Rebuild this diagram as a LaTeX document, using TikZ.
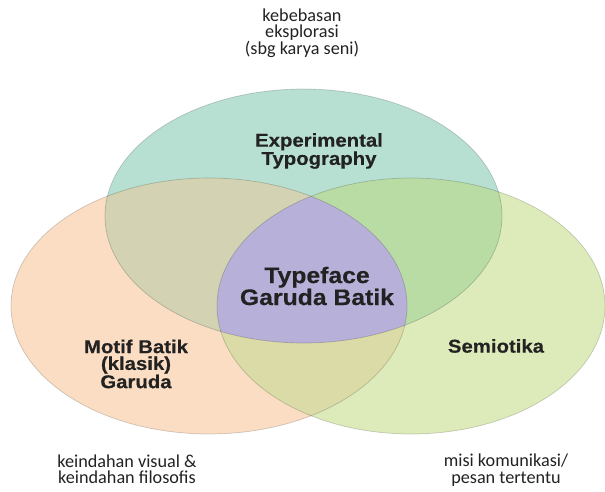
\documentclass[tikz,border=0pt]{standalone}
\usepackage{fontspec}
\setmainfont{Carlito}
\newfontfamily\heavy{Liberation Sans Bold}[FakeStretch=1.1, FakeBold=0.35]
\definecolor{cTop}{HTML}{B7E0D2}
\definecolor{cLeft}{HTML}{FADDC2}
\definecolor{cRight}{HTML}{DDEBBA}
\definecolor{cTL}{HTML}{D3D2B2}
\definecolor{cTR}{HTML}{B9DCA5}
\definecolor{cLR}{HTML}{DADBA6}
\definecolor{cMid}{HTML}{B7B1DA}
\definecolor{cText}{HTML}{222222}
\tikzset{
  outline/.style={draw=black, draw opacity=0.18, line width=0.7pt},
  bigbold/.style={align=center, text=cText, font=\heavy\fontsize{22.5}{20.5}\selectfont},
  midbold/.style={align=center, text=cText, font=\heavy\fontsize{18.5}{16.8}\selectfont},
  note/.style={align=center, text=cText, font=\fontsize{18.2}{16.5}\selectfont}
}
\begin{document}
\begin{tikzpicture}[x=1pt,y=-1pt]
\useasboundingbox (0,0) rectangle (605,491);
% base fills
\fill[cLeft] (209,306) ellipse [x radius=198, y radius=128];
\fill[cRight] (411,306) ellipse [x radius=194, y radius=128];
\fill[cTop] (303.5,216) ellipse [x radius=198.5, y radius=127];
% pairwise overlaps
\begin{scope}
  \clip (303.5,216) ellipse [x radius=198.5, y radius=127];
  \fill[cTL] (209,306) ellipse [x radius=198, y radius=128];
\end{scope}
\begin{scope}
  \clip (303.5,216) ellipse [x radius=198.5, y radius=127];
  \fill[cTR] (411,306) ellipse [x radius=194, y radius=128];
\end{scope}
\begin{scope}
  \clip (209,306) ellipse [x radius=198, y radius=128];
  \fill[cLR] (411,306) ellipse [x radius=194, y radius=128];
\end{scope}
% triple overlap
\begin{scope}
  \clip (303.5,216) ellipse [x radius=198.5, y radius=127];
  \clip (209,306) ellipse [x radius=198, y radius=128];
  \fill[cMid] (411,306) ellipse [x radius=194, y radius=128];
\end{scope}
% outlines
\path[outline] (209,306) ellipse [x radius=198, y radius=128];
\path[outline] (411,306) ellipse [x radius=194, y radius=128];
\path[outline] (303.5,216) ellipse [x radius=198.5, y radius=127];
% labels
\node[midbold] (exp) at (319,151) {Experimental\\Typography};
\node[bigbold] (core) at (317,286) {Typeface\\Garuda Batik};
\node[midbold] (motif) at (136,364) {Motif Batik\\(klasik)\\Garuda};
\node[midbold] (semio) at (496,346) {Semiotika};
\node[note] (topnote) at (302,33) {kebebasan\\eksplorasi\\(sbg karya seni)};
\node[note] (leftnote) at (127,469) {keindahan visual \&\\keindahan filosofis};
\node[note] (rightnote) at (506,470) {misi komunikasi/\\pesan tertentu};
\end{tikzpicture}
\end{document}
